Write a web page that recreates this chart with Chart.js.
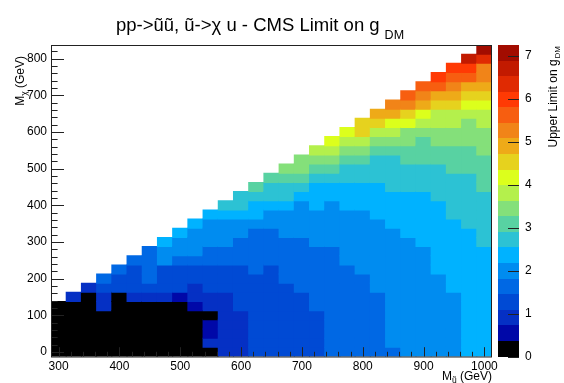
<!DOCTYPE html>
<html>
<head>
<meta charset="utf-8">
<script src="https://cdn.jsdelivr.net/npm/chart.js@4.4.1/dist/chart.umd.min.js"></script>
<style>
  html, body { margin: 0; padding: 0; background: #fff; }
  #wrap { width: 564px; height: 383px; }
</style>
</head>
<body>
<div id="wrap"><canvas id="myChart" width="564" height="383"></canvas></div>
<script>
/* globals Chart:false */

// squark mass bins (x) and neutralino mass bins (y), GeV
const squarkMass = [300, 325, 350, 375, 400, 425, 450, 475, 500, 525, 550, 575, 600, 625, 650,
  675, 700, 725, 750, 775, 800, 825, 850, 875, 900, 925, 950, 975, 1000];
const chiMass = [0, 25, 50, 75, 100, 125, 150, 175, 200, 225, 250, 275, 300, 325, 350, 375, 400,
  425, 450, 475, 500, 525, 550, 575, 600, 625, 650, 675, 700, 725, 750, 775, 800, 825];

// upper limit on g_DM, one list per squark mass, starting at M_chi = 0
const upperLimit = [
  [0.2, 0.2, 0.2, 0.2, 0.2, 0.2],
  [0.2, 0.2, 0.2, 0.2, 0.2, 0.2, 0.9],
  [0.2, 0.2, 0.2, 0.2, 0.2, 0.2, 0.2, 0.9],
  [0.2, 0.2, 0.2, 0.2, 0.2, 0.9, 0.9, 1.3, 1.6],
  [0.2, 0.2, 0.2, 0.2, 0.2, 0.2, 0.2, 1.3, 1.3, 1.6],
  [0.2, 0.2, 0.2, 0.2, 0.2, 0.2, 0.9, 1.3, 1.3, 1.3, 1.6],
  [0.2, 0.2, 0.2, 0.2, 0.2, 0.2, 0.9, 1.3, 1.6, 1.6, 1.6, 1.6],
  [0.2, 0.2, 0.2, 0.2, 0.2, 0.2, 0.9, 1.3, 1.3, 1.3, 2.0, 2.0, 2.4],
  [0.2, 0.2, 0.2, 0.2, 0.2, 0.2, 0.5, 1.3, 1.3, 1.3, 1.6, 2.0, 2.0, 2.4],
  [0.2, 0.2, 0.2, 0.2, 0.2, 0.5, 0.9, 0.9, 1.3, 1.3, 1.6, 2.0, 2.0, 2.0, 2.4],
  [0.2, 0.9, 0.5, 0.5, 0.2, 0.9, 0.9, 1.3, 1.3, 1.3, 1.6, 1.6, 2.0, 2.0, 2.0, 2.4],
  [0.9, 0.9, 0.9, 0.9, 0.9, 0.9, 0.9, 1.3, 1.3, 1.3, 1.6, 1.6, 2.0, 2.0, 2.0, 2.4, 2.7],
  [0.9, 0.9, 0.9, 0.9, 0.9, 1.3, 1.3, 1.3, 1.3, 1.3, 1.6, 1.6, 1.6, 2.0, 2.0, 2.4, 2.7, 2.7],
  [1.3, 1.3, 1.3, 1.3, 1.3, 1.3, 1.3, 1.3, 1.3, 1.6, 1.6, 1.6, 1.6, 1.6, 2.0, 2.4, 2.4, 2.7, 3.1],
  [1.3, 1.3, 1.3, 1.3, 1.3, 1.3, 1.3, 1.3, 1.3, 1.3, 1.6, 1.6, 1.6, 1.6, 2.0, 2.0, 2.4, 2.7, 2.7, 3.1],
  [1.3, 1.3, 1.3, 1.3, 1.3, 1.3, 1.3, 1.3, 1.6, 1.6, 1.6, 1.6, 1.6, 2.0, 2.0, 2.0, 2.4, 2.7, 2.7, 3.1, 3.4],
  [1.3, 1.3, 1.3, 1.3, 1.3, 1.3, 1.3, 1.6, 1.6, 1.6, 1.6, 1.6, 1.6, 2.0, 2.0, 2.0, 2.0, 2.4, 2.7, 3.1, 3.4, 3.4],
  [1.3, 1.3, 1.3, 1.3, 1.3, 1.6, 1.6, 1.6, 1.6, 1.6, 1.6, 1.6, 2.0, 2.0, 2.0, 2.0, 2.4, 2.4, 2.4, 2.7, 3.1, 3.4, 3.8],
  [1.6, 1.6, 1.6, 1.6, 1.6, 1.6, 1.6, 1.6, 1.6, 1.6, 1.6, 1.6, 2.0, 2.0, 2.0, 2.0, 2.0, 2.4, 2.4, 2.7, 3.1, 3.4, 3.8, 4.2],
  [1.6, 1.6, 1.6, 1.6, 1.6, 1.6, 1.6, 1.6, 1.6, 1.6, 2.0, 2.0, 2.0, 2.0, 2.0, 2.0, 2.4, 2.4, 2.4, 2.7, 2.7, 3.1, 3.4, 3.8, 4.2],
  [1.6, 1.6, 1.6, 1.6, 1.6, 1.6, 1.6, 1.6, 1.6, 2.0, 2.0, 2.0, 2.0, 2.0, 2.0, 2.0, 2.4, 2.4, 2.4, 2.7, 2.7, 3.1, 3.4, 3.8, 4.5, 4.5],
  [1.6, 1.6, 1.6, 1.6, 1.6, 1.6, 1.6, 2.0, 2.0, 2.0, 2.0, 2.0, 2.0, 2.0, 2.0, 2.4, 2.4, 2.4, 2.4, 2.7, 2.7, 2.7, 3.1, 3.4, 3.8, 4.5, 4.9],
  [1.6, 2.0, 2.0, 2.0, 2.0, 2.0, 2.0, 2.0, 2.0, 2.0, 2.0, 2.0, 2.0, 2.0, 2.4, 2.4, 2.4, 2.4, 2.7, 2.7, 2.7, 2.7, 3.1, 3.4, 3.8, 4.2, 4.9, 5.3],
  [2.0, 2.0, 2.0, 2.0, 2.0, 2.0, 2.0, 2.0, 2.0, 2.0, 2.0, 2.0, 2.0, 2.4, 2.4, 2.4, 2.4, 2.4, 2.7, 2.7, 2.7, 3.1, 3.1, 3.4, 3.4, 4.2, 4.5, 5.3, 5.6],
  [2.0, 2.0, 2.0, 2.0, 2.0, 2.0, 2.0, 2.0, 2.0, 2.0, 2.0, 2.0, 2.4, 2.4, 2.4, 2.4, 2.4, 2.4, 2.7, 2.7, 2.7, 3.1, 3.1, 3.1, 3.4, 3.8, 4.2, 4.9, 5.3, 5.6],
  [2.0, 2.0, 2.0, 2.0, 2.0, 2.0, 2.0, 2.0, 2.0, 2.4, 2.4, 2.4, 2.4, 2.4, 2.4, 2.4, 2.4, 2.7, 2.7, 2.7, 2.7, 3.1, 3.1, 3.4, 3.4, 3.8, 3.8, 4.5, 4.9, 5.6, 6.0],
  [2.0, 2.0, 2.0, 2.0, 2.0, 2.0, 2.0, 2.4, 2.4, 2.4, 2.4, 2.4, 2.4, 2.4, 2.4, 2.7, 2.7, 2.7, 2.7, 2.7, 3.1, 3.1, 3.1, 3.4, 3.4, 3.8, 3.8, 4.5, 4.9, 5.3, 5.6, 6.0],
  [2.4, 2.4, 2.4, 2.4, 2.4, 2.4, 2.4, 2.4, 2.4, 2.4, 2.4, 2.4, 2.4, 2.4, 2.7, 2.7, 2.7, 2.7, 2.7, 2.7, 3.1, 3.1, 3.1, 3.4, 3.4, 3.4, 3.8, 4.2, 4.5, 4.9, 5.6, 6.0, 6.7],
  [2.4, 2.4, 2.4, 2.4, 2.4, 2.4, 2.4, 2.4, 2.4, 2.4, 2.4, 2.4, 2.7, 2.7, 2.7, 2.7, 2.7, 2.7, 3.1, 3.1, 3.1, 3.1, 3.4, 3.4, 3.4, 3.8, 3.8, 4.2, 4.5, 4.9, 5.3, 5.3, 6.3, 7.1],
];

const xTicks = [300, 400, 500, 600, 700, 800, 900, 1000];
const yTicks = [0, 100, 200, 300, 400, 500, 600, 700, 800];
const zTicks = [0, 1, 2, 3, 4, 5, 6, 7];
const zMax = 7.26;

// 20 contour colours, lowest first
const palette = [
  "#000000", "#0008a8", "#0530c4", "#004ad4", "#0068e4", "#008cf0", "#00b2ff",
  "#2cc2d4", "#58d2a2", "#84e07a", "#b4f04c", "#dcff1c", "#e6d21e", "#eeaa18",
  "#f18418", "#f75e10", "#ff3a04", "#e02a02", "#c21a00", "#a20c00",
];

(() => {
  "use strict";

  const FONT = "Liberation Sans";
  Chart.defaults.font.family = FONT;

  const colorFor = (g) => {
    const k = Math.min(palette.length - 1, Math.floor(g / (zMax / palette.length)));
    return palette[k];
  };

  const cells = [];
  squarkMass.forEach((mu, i) => {
    upperLimit[i].forEach((g, j) => {
      cells.push({ x: mu, y: [chiMass[j] - 12.5, chiMass[j] + 12.5], g: g });
    });
  });

  // text with a subscript part, drawn at current transform
  function subText(ctx, parts, x, y, align) {
    let w = 0;
    parts.forEach((p) => {
      ctx.font = p.size + "px '" + FONT + "'";
      w += ctx.measureText(p.t).width + (p.gap || 0);
    });
    let cx = align === "right" ? x - w : align === "center" ? x - w / 2 : x;
    parts.forEach((p) => {
      ctx.font = p.size + "px '" + FONT + "'";
      cx += p.gap || 0;
      ctx.fillText(p.t, cx, y + (p.dy || 0));
      cx += ctx.measureText(p.t).width;
    });
  }

  const rootStyle = {
    id: "rootStyle",
    afterDatasetsDraw(chart) {
      const { ctx, chartArea: a, scales } = chart;
      const x = scales.x, y = scales.y;
      ctx.save();
      ctx.fillStyle = "#000";
      ctx.strokeStyle = "#222";
      ctx.lineWidth = 1;

      // frame
      ctx.strokeRect(a.left + 0.5, a.top + 0.5, a.right - a.left - 1, a.bottom - a.top);

      // inward ticks
      ctx.beginPath();
      for (let v = 0; v <= 820; v += 20) {
        const py = Math.round(y.getPixelForValue(v)) + 0.5;
        const len = v % 100 === 0 ? 13 : 6.6;
        ctx.moveTo(a.left, py);
        ctx.lineTo(a.left + len, py);
      }
      for (let v = 300; v <= 1000; v += 20) {
        const px = Math.round(x.getPixelForValue(v)) + 0.5;
        const len = v % 100 === 0 ? 9.3 : 4.7;
        ctx.moveTo(px, a.bottom);
        ctx.lineTo(px, a.bottom - len);
      }
      ctx.stroke();

      // colour bar
      const barL = 498, barR = 519;
      const zPix = (v) => a.bottom - (v / zMax) * (a.bottom - a.top);
      palette.forEach((c, k) => {
        const top = Math.round(zPix((k + 1) * zMax / palette.length));
        const bot = Math.round(zPix(k * zMax / palette.length));
        ctx.fillStyle = c;
        ctx.fillRect(barL, top, barR - barL, bot - top);
      });
      ctx.fillStyle = "#000";
      ctx.beginPath();
      zTicks.forEach((v) => {
        const py = Math.round(zPix(v)) + 0.5;
        ctx.moveTo(barR, py);
        ctx.lineTo(barR - 11, py);
      });
      ctx.stroke();
      ctx.font = "12px '" + FONT + "'";
      ctx.textAlign = "left";
      ctx.textBaseline = "middle";
      zTicks.forEach((v) => ctx.fillText(String(v), 525, zPix(v)));

      // titles
      ctx.textAlign = "left";
      ctx.textBaseline = "alphabetic";
      subText(ctx, [
        { t: "pp->ũũ, ũ->χ u - CMS Limit on g", size: 18.5 },
        { t: "DM", size: 12.5, dy: 8, gap: 5 },
      ], 260, 31, "center");

      subText(ctx, [
        { t: "M", size: 12 },
        { t: "ũ", size: 8.5, dy: 3 },
        { t: " (GeV)", size: 12 },
      ], a.right, 380, "right");

      ctx.save();
      ctx.translate(24, a.top + 11);
      ctx.rotate(-Math.PI / 2);
      subText(ctx, [
        { t: "M", size: 12 },
        { t: "χ", size: 8.5, dy: 3 },
        { t: " (GeV)", size: 12 },
      ], 0, 0, "right");
      ctx.restore();

      ctx.save();
      ctx.translate(557, a.top + 1);
      ctx.rotate(-Math.PI / 2);
      subText(ctx, [
        { t: "Upper Limit on g", size: 12 },
        { t: "DM", size: 8, dy: 3, gap: 1 },
      ], 0, 0, "right");
      ctx.restore();

      ctx.restore();
    },
  };

  const tickFont = { family: FONT, size: 12 };

  // eslint-disable-next-line no-unused-vars
  const myChart = new Chart(document.getElementById("myChart"), {
    type: "bar",
    data: {
      datasets: [
        {
          data: cells,
          backgroundColor: (c) => colorFor(c.raw.g),
          borderWidth: 0,
          barPercentage: 1,
          categoryPercentage: 1,
          inflateAmount: 0.5,
        },
      ],
    },
    options: {
      responsive: false,
      animation: false,
      devicePixelRatio: 1,
      events: [],
      layout: { padding: { left: 0, right: 72, top: 45, bottom: 0 } },
      plugins: {
        legend: { display: false },
        tooltip: { enabled: false },
      },
      scales: {
        x: {
          type: "linear",
          min: 287.5,
          max: 1012.5,
          offset: false,
          grid: { display: false, drawTicks: false, offset: false },
          border: { display: false },
          ticks: {
            font: tickFont, color: "#000", padding: 3, autoSkip: false, maxRotation: 0,
            callback: (v) => String(v),
          },
          afterBuildTicks: (s) => { s.ticks = xTicks.map((v) => ({ value: v })); },
          afterFit: (s) => { s.height = 26.5; },
        },
        y: {
          type: "linear",
          min: -12.5,
          max: 837.5,
          offset: false,
          grid: { display: false, drawTicks: false },
          border: { display: false },
          ticks: { font: tickFont, color: "#000", padding: 4, callback: (v) => String(v) },
          afterBuildTicks: (s) => { s.ticks = yTicks.map((v) => ({ value: v })); },
          afterFit: (s) => { s.width = 51; },
        },
      },
    },
    plugins: [rootStyle],
  });
})();
</script>
</body>
</html>
